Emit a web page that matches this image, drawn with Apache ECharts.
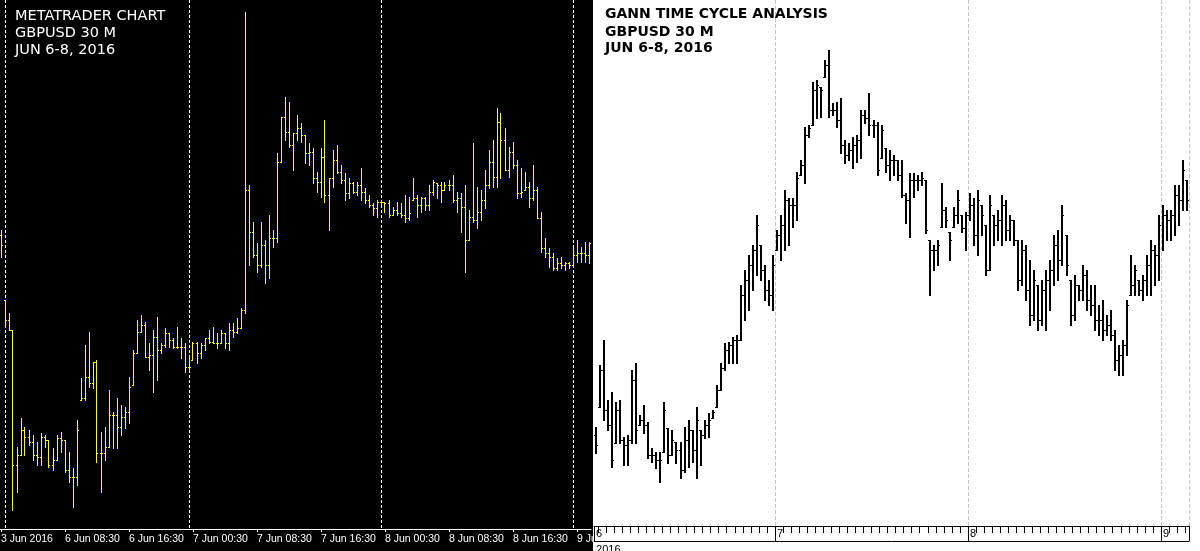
<!DOCTYPE html>
<html><head><meta charset="utf-8">
<script src="https://cdn.jsdelivr.net/npm/echarts@6/dist/echarts.min.js"></script>
<style>html,body{margin:0;padding:0;background:#fff}#c{width:1200px;height:551px}</style>
</head><body><div id="c"></div>
<script>
// ---- DATA (prices × 10000) ----
// Left panel: MetaTrader GBPUSD 30M bars
const leftHigh  = [14570,14500,14487,14470,14353,14382,14373,14370,14365,14358,14367,14365,14360,14352,14365,14368,14360,14348,14332,14380,14422,14455,14468,14438,14440,14368,14373,14410,14388,14402,14395,14393,14423,14450,14480,14485,14478,14457,14470,14483,14457,14472,14467,14462,14473,14462,14457,14443,14458,14458,14457,14462,14470,14473,14467,14470,14467,14477,14477,14482,14492,14788,14615,14578,14557,14578,14560,14585,14570,14647,14683,14703,14698,14667,14685,14677,14665,14657,14652,14628,14652,14680,14622,14650,14655,14635,14627,14622,14618,14618,14632,14612,14605,14597,14600,14600,14598,14600,14593,14598,14597,14605,14603,14622,14605,14603,14603,14615,14620,14617,14618,14618,14620,14625,14608,14607,14615,14590,14657,14613,14610,14630,14650,14660,14692,14687,14672,14653,14658,14640,14632,14628,14618,14635,14613,14588,14562,14552,14547,14542,14543,14538,14538,14553,14560,14553,14558,14558];
const leftLow   = [14543,14473,14470,14290,14308,14345,14345,14355,14340,14335,14335,14353,14333,14330,14340,14348,14328,14318,14293,14315,14400,14400,14413,14412,14338,14308,14340,14353,14352,14352,14365,14372,14377,14415,14447,14468,14443,14430,14408,14420,14447,14453,14453,14452,14452,14442,14428,14430,14440,14437,14442,14450,14457,14457,14452,14457,14452,14450,14463,14467,14472,14487,14535,14543,14528,14533,14517,14522,14553,14558,14638,14660,14653,14630,14660,14658,14637,14635,14617,14608,14603,14598,14570,14613,14627,14617,14600,14602,14607,14605,14600,14597,14593,14585,14583,14595,14588,14583,14585,14585,14583,14578,14580,14600,14583,14588,14590,14590,14605,14602,14598,14610,14610,14598,14588,14568,14528,14560,14578,14572,14580,14592,14612,14613,14613,14622,14630,14623,14632,14602,14603,14610,14593,14600,14582,14548,14543,14533,14530,14530,14532,14530,14532,14533,14538,14538,14538,14537];
const leftClose = [14555,14480,14470,14335,14345,14370,14363,14358,14345,14343,14363,14360,14335,14340,14362,14360,14330,14323,14323,14370,14402,14423,14417,14438,14347,14347,14353,14385,14385,14373,14383,14388,14413,14447,14468,14475,14443,14445,14463,14450,14455,14467,14460,14453,14453,14453,14433,14433,14457,14447,14455,14462,14458,14457,14457,14467,14457,14470,14468,14472,14490,14610,14568,14545,14535,14555,14535,14562,14562,14638,14683,14668,14655,14667,14672,14665,14647,14648,14622,14618,14643,14605,14622,14640,14628,14620,14607,14617,14608,14615,14608,14600,14595,14592,14598,14598,14597,14585,14590,14587,14585,14582,14587,14602,14595,14602,14595,14608,14618,14615,14610,14615,14615,14600,14602,14593,14560,14583,14580,14588,14600,14615,14638,14623,14678,14660,14630,14648,14635,14607,14608,14613,14602,14610,14582,14552,14547,14543,14532,14537,14535,14537,14535,14545,14547,14547,14545,14557];
const leftFirstOpen = 14565;
const leftLabelIndex = [0,16,32,48,64,80,96,112,128,144];
const leftLabelText  = ['3 Jun 2016','6 Jun 08:30','6 Jun 16:30','7 Jun 00:30','7 Jun 08:30','7 Jun 16:30','8 Jun 00:30','8 Jun 08:30','8 Jun 16:30','9 Jun 00:30'];
const leftDaySeparators = [1,47,95,143];

// Right panel: Gann time cycle chart GBPUSD 30M bars
const rightHigh  = [14373,14435,14460,14400,14408,14398,14400,14363,14365,14430,14437,14385,14395,14378,14352,14348,14348,14398,14372,14370,14358,14358,14373,14380,14370,14393,14370,14380,14387,14390,14415,14437,14457,14458,14463,14465,14515,14530,14545,14555,14585,14555,14535,14520,14545,14570,14585,14610,14602,14602,14628,14640,14673,14675,14718,14720,14713,14740,14750,14697,14698,14702,14660,14657,14663,14665,14690,14690,14707,14680,14678,14675,14652,14650,14645,14640,14640,14607,14627,14627,14625,14628,14620,14560,14555,14560,14617,14593,14568,14593,14610,14585,14588,14607,14602,14610,14595,14575,14605,14585,14590,14605,14600,14585,14580,14560,14560,14555,14540,14530,14515,14520,14530,14540,14565,14570,14595,14565,14520,14525,14515,14535,14530,14515,14515,14495,14500,14485,14490,14470,14455,14460,14500,14545,14535,14520,14525,14545,14560,14555,14585,14595,14590,14590,14615,14615,14640,14620];
const rightLow   = [14347,14393,14380,14370,14333,14357,14357,14335,14335,14357,14357,14375,14367,14342,14338,14332,14318,14348,14337,14345,14337,14322,14328,14333,14338,14322,14335,14362,14363,14382,14393,14410,14430,14437,14437,14437,14460,14480,14490,14510,14525,14520,14500,14495,14490,14550,14540,14550,14555,14573,14580,14625,14617,14663,14675,14682,14683,14723,14683,14685,14673,14647,14637,14640,14632,14638,14642,14677,14665,14663,14625,14642,14628,14620,14625,14620,14603,14577,14563,14603,14610,14615,14567,14505,14530,14535,14573,14573,14540,14573,14577,14568,14550,14580,14555,14545,14565,14525,14530,14555,14560,14555,14560,14560,14555,14510,14515,14500,14475,14480,14470,14475,14470,14490,14515,14520,14535,14525,14475,14480,14500,14500,14490,14485,14470,14465,14460,14465,14460,14430,14425,14425,14445,14505,14505,14505,14500,14505,14505,14515,14520,14550,14560,14560,14565,14575,14590,14590];
const rightClose = [14355,14430,14390,14375,14340,14390,14360,14355,14360,14420,14370,14380,14375,14345,14345,14340,14340,14390,14345,14360,14350,14330,14360,14370,14350,14380,14365,14375,14380,14388,14410,14432,14450,14455,14460,14460,14505,14520,14535,14550,14575,14530,14510,14505,14535,14565,14575,14600,14595,14595,14622,14635,14665,14672,14710,14715,14710,14735,14690,14690,14680,14655,14645,14650,14655,14660,14685,14682,14675,14675,14630,14670,14635,14640,14640,14625,14605,14600,14620,14620,14620,14622,14570,14550,14550,14555,14590,14580,14560,14585,14600,14572,14585,14595,14565,14600,14585,14530,14595,14575,14580,14595,14570,14580,14560,14520,14550,14510,14485,14520,14480,14510,14520,14530,14555,14540,14585,14535,14485,14515,14510,14525,14500,14495,14480,14480,14470,14475,14465,14440,14445,14455,14495,14515,14530,14510,14520,14535,14550,14545,14575,14585,14580,14585,14605,14600,14630,14600];
const rightFirstOpen = 14365;
const rightDayIndex = [0,45,93,141];
const rightDayText  = ['6','7','8','9'];
const rightYearText = '2016';

// ---- BUILD ----
const SCALE = 10000;
function buildBars(high, low, close, firstOpen) {
  return high.map((h, i) => {
    const prev = i === 0 ? firstOpen : close[i - 1];
    const o = Math.min(h, Math.max(low[i], prev));
    return [i, o / SCALE, h / SCALE, low[i] / SCALE, close[i] / SCALE];
  });
}
const leftCats = leftHigh.map((_, i) => String(i));
const rightCats = rightHigh.map((_, i) => String(i));

function ohlcRenderer(color, barW, tickW) {
  return function (params, api) {
    const idx = api.value(0);
    const pO = api.coord([idx, api.value(1)]);
    const pH = api.coord([idx, api.value(2)]);
    const pL = api.coord([idx, api.value(3)]);
    const pC = api.coord([idx, api.value(4)]);
    const x = Math.floor(pH[0] - barW / 2 + 0.5);
    const top = Math.round(pH[1]);
    const bot = Math.round(pL[1]);
    return {
      type: 'group',
      children: [
        { type: 'rect', shape: { x: x, y: top, width: barW, height: Math.max(1, bot - top + 1) }, style: { fill: color } },
        { type: 'rect', shape: { x: x - tickW, y: Math.round(pO[1]), width: tickW, height: 1 }, style: { fill: color } },
        { type: 'rect', shape: { x: x + barW, y: Math.round(pC[1]), width: tickW, height: 1 }, style: { fill: color } }
      ]
    };
  };
}

function separatorRenderer(params, api) {
  const idx = api.value(0);
  const p = api.coord([idx, 0]);
  const cs = params.coordSys;
  const x = Math.floor(p[0]) + 0.5;
  return {
    type: 'line',
    shape: { x1: x, y1: cs.y, x2: x, y2: cs.y + cs.height },
    style: { stroke: '#ffffff', lineWidth: 1, lineDash: [3, 2] }
  };
}

const chart = echarts.init(document.getElementById('c'));
chart.setOption({
  animation: false,
  backgroundColor: '#ffffff',
  grid: [
    { left: -1, top: 0, width: 592, height: 529, containLabel: false, outerBoundsMode: 'none' },
    { left: 594.06, top: 0, width: 595.08, height: 526, containLabel: false, outerBoundsMode: 'none' }
  ],
  xAxis: [
    {
      type: 'category', gridIndex: 0, position: 'bottom', data: leftCats, boundaryGap: true, z: 0,
      axisLine: { show: true, lineStyle: { color: '#ffffff', width: 1 } },
      axisTick: { show: true, alignWithLabel: true, interval: (i) => leftLabelIndex.includes(i), length: 3, lineStyle: { color: '#ffffff' } },
      axisLabel: {
        show: true,
        interval: (i) => leftLabelIndex.includes(i),
        formatter: (v, i) => leftLabelText[leftLabelIndex.indexOf(i)] || '',
        color: '#ffffff', align: 'left', margin: 5,
        fontFamily: 'Liberation Sans', fontSize: 10.5
      },
      splitLine: { show: false }
    },
    {
      type: 'category', gridIndex: 1, position: 'bottom', data: rightCats, boundaryGap: true, z: 5,
      axisLine: { show: true, lineStyle: { color: '#000000', width: 1 } },
      axisTick: { show: true, interval: (i) => i % 2 === 1, length: 7, lineStyle: { color: '#000000' } },
      axisLabel: {
        show: true,
        interval: (i) => rightDayIndex.includes(i),
        formatter: (v, i) => rightDayText[rightDayIndex.indexOf(i)] || '',
        color: '#000000', align: 'left', margin: 2,
        fontFamily: 'Liberation Sans', fontSize: 11
      },
      splitLine: { show: true, interval: (i) => rightDayIndex.includes(i) && i > 0, lineStyle: { color: '#c4c4c4', type: [4, 2], width: 1 } }
    },
    {
      type: 'category', gridIndex: 1, position: 'bottom', data: rightCats, boundaryGap: true, z: 5,
      axisLine: { show: false },
      axisTick: { show: true, interval: (i) => rightDayIndex.includes(i), length: 15, lineStyle: { color: '#000000' } },
      axisLabel: { show: false },
      splitLine: { show: false }
    },
    {
      type: 'category', gridIndex: 1, position: 'bottom', data: rightCats, boundaryGap: true, z: 5, offset: 15,
      axisLine: { show: true, lineStyle: { color: '#000000', width: 1 } },
      axisTick: { show: false },
      axisLabel: {
        show: true,
        interval: (i) => i === 0,
        formatter: () => rightYearText,
        color: '#000000', align: 'left', margin: 3,
        fontFamily: 'Liberation Sans', fontSize: 11
      },
      splitLine: { show: false }
    }
  ],
  yAxis: [
    { type: 'value', gridIndex: 0, min: 1.4271, max: 1.4800, show: false, splitLine: { show: false } },
    { type: 'value', gridIndex: 1, min: 1.4274, max: 1.4800, show: false, splitLine: { show: false } }
  ],
  graphic: {
    elements: [
      { type: 'rect', z: -10, silent: true, shape: { x: 0, y: 0, width: 593, height: 551 }, style: { fill: '#000000' } },
      { type: 'rect', z: 1, silent: true, shape: { x: 593, y: 530, width: 607, height: 21 }, style: { fill: '#ffffff' } },
      { type: 'text', z: 10, x: 15, y: 16, style: { text: 'METATRADER CHART', fill: '#ffffff', font: '14.5px "DejaVu Sans"', textVerticalAlign: 'middle', verticalAlign: 'middle' } },
      { type: 'text', z: 10, x: 15, y: 33, style: { text: 'GBPUSD 30 M', fill: '#ffffff', font: '14.5px "DejaVu Sans"', textVerticalAlign: 'middle', verticalAlign: 'middle' } },
      { type: 'text', z: 10, x: 15, y: 50, style: { text: 'JUN 6-8, 2016', fill: '#ffffff', font: '14.5px "DejaVu Sans"', textVerticalAlign: 'middle', verticalAlign: 'middle' } },
      { type: 'text', z: 10, x: 605, y: 14, style: { text: 'GANN TIME CYCLE ANALYSIS', fill: '#000000', font: 'bold 14px "DejaVu Sans"', textVerticalAlign: 'middle', verticalAlign: 'middle' } },
      { type: 'text', z: 10, x: 605, y: 32, style: { text: 'GBPUSD 30 M', fill: '#000000', font: 'bold 14px "DejaVu Sans"', textVerticalAlign: 'middle', verticalAlign: 'middle' } },
      { type: 'text', z: 10, x: 605, y: 48, style: { text: 'JUN 6-8, 2016', fill: '#000000', font: 'bold 14px "DejaVu Sans"', textVerticalAlign: 'middle', verticalAlign: 'middle' } }
    ]
  },
  series: [
    {
      type: 'custom', name: 'day separators', xAxisIndex: 0, yAxisIndex: 0, z: 1,
      renderItem: separatorRenderer, encode: { x: 0 },
      data: leftDaySeparators.map(i => [i])
    },
    {
      type: 'custom', name: 'MetaTrader', xAxisIndex: 0, yAxisIndex: 0, z: 2,
      renderItem: ohlcRenderer('#ffff00', 1, 1),
      encode: { x: 0, y: [1, 2, 3, 4] },
      data: buildBars(leftHigh, leftLow, leftClose, leftFirstOpen)
    },
    {
      type: 'custom', name: 'Gann', xAxisIndex: 1, yAxisIndex: 1, z: 2,
      renderItem: ohlcRenderer('#000000', 2, 1),
      encode: { x: 0, y: [1, 2, 3, 4] },
      data: buildBars(rightHigh, rightLow, rightClose, rightFirstOpen)
    }
  ]
});
</script>
</body></html>
